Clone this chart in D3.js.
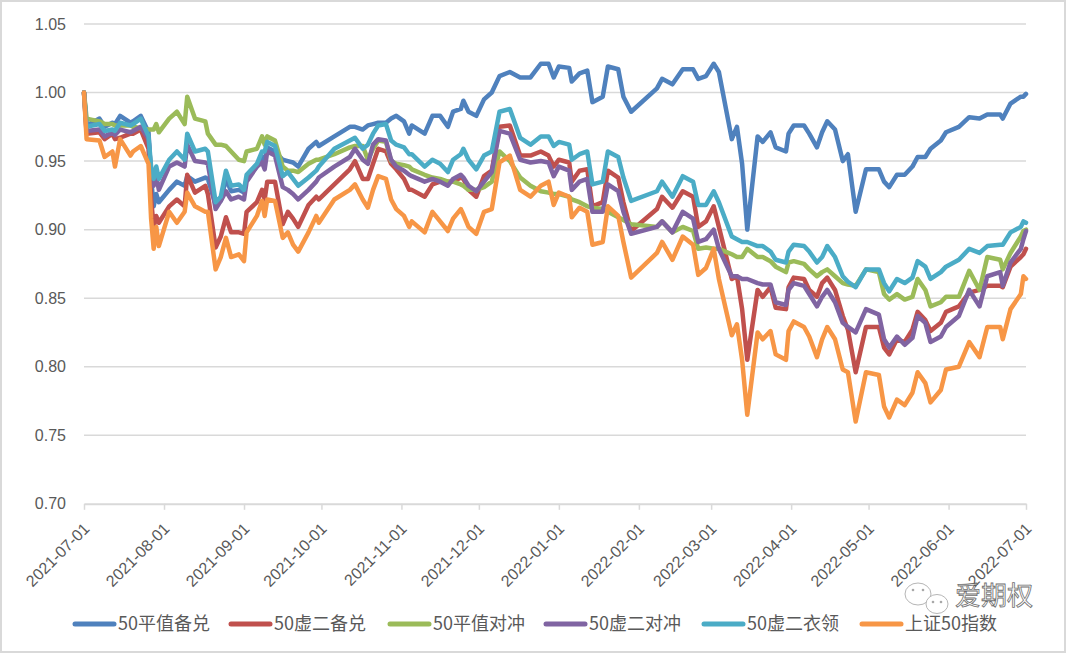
<!DOCTYPE html>
<html>
<head>
<meta charset="utf-8">
<script src="https://cdn.jsdelivr.net/npm/d3@7"></script>
<style>
  body { margin: 0; background: #fff; }
  svg { display: block; }
</style>
</head>
<body>
<svg id="chart" width="1067" height="655"></svg>
<script>
// trading dates
var dates = [
  "2021-07-01","2021-07-02","2021-07-07","2021-07-09","2021-07-12","2021-07-13","2021-07-15","2021-07-19","2021-07-20","2021-07-23",
  "2021-07-26","2021-07-27","2021-07-28","2021-07-29","2021-07-30","2021-08-03","2021-08-06","2021-08-09","2021-08-10","2021-08-13",
  "2021-08-17","2021-08-18","2021-08-21","2021-08-23","2021-08-25","2021-08-27","2021-08-30","2021-09-01","2021-09-02","2021-09-06",
  "2021-09-08","2021-09-09","2021-09-10","2021-09-13","2021-09-16","2021-09-18","2021-09-20","2021-09-22","2021-09-26","2021-09-29",
  "2021-09-30","2021-10-06","2021-10-12","2021-10-14","2021-10-17","2021-10-19","2021-10-21","2021-10-23","2021-10-26","2021-10-28",
  "2021-10-30","2021-11-02","2021-11-04","2021-11-05","2021-11-10","2021-11-13","2021-11-16","2021-11-19","2021-11-21","2021-11-24",
  "2021-11-25","2021-11-27","2021-11-30","2021-12-03","2021-12-06","2021-12-09","2021-12-13","2021-12-17","2021-12-21","2021-12-25",
  "2021-12-28","2021-12-30","2022-01-01","2022-01-05","2022-01-06","2022-01-09","2022-01-12","2022-01-14","2022-01-18","2022-01-20",
  "2022-01-24","2022-01-26","2022-01-29","2022-02-08","2022-02-10","2022-02-14","2022-02-18","2022-02-22","2022-02-24","2022-02-27",
  "2022-03-02","2022-03-04","2022-03-09","2022-03-11","2022-03-13","2022-03-15","2022-03-19","2022-03-21","2022-03-24","2022-03-26",
  "2022-03-30","2022-03-31","2022-04-02","2022-04-06","2022-04-08","2022-04-11","2022-04-13","2022-04-15","2022-04-18","2022-04-21",
  "2022-04-23","2022-04-26","2022-04-30","2022-05-05","2022-05-07","2022-05-09","2022-05-12","2022-05-15","2022-05-18","2022-05-20",
  "2022-05-23","2022-05-25","2022-05-29","2022-05-31","2022-06-05","2022-06-09","2022-06-13","2022-06-16","2022-06-21","2022-06-22",
  "2022-06-25","2022-06-29","2022-06-30","2022-07-01"
];

var pingzhiBeidui = [ // 50平值备兑
  1.000,0.976,0.981,0.975,0.978,0.977,0.983,0.978,0.979,0.983,
  0.971,0.937,0.917,0.926,0.920,0.929,0.935,0.932,0.939,0.935,
  0.938,0.937,0.918,0.921,0.937,0.928,0.929,0.927,0.937,0.946,
  0.953,0.951,0.960,0.957,0.951,0.950,0.949,0.946,0.959,0.964,
  0.961,0.968,0.975,0.975,0.973,0.976,0.977,0.978,0.978,0.981,
  0.983,0.979,0.970,0.976,0.970,0.983,0.983,0.975,0.986,0.988,
  0.994,0.986,0.983,0.995,1.000,1.012,1.015,1.011,1.011,1.021,
  1.021,1.011,1.019,1.018,1.008,1.014,1.016,0.993,0.997,1.019,
  1.017,0.997,0.986,1.003,1.010,1.006,1.017,1.017,1.010,1.012,
  1.021,1.015,0.966,0.975,0.948,0.900,0.968,0.964,0.971,0.960,
  0.957,0.970,0.976,0.976,0.970,0.960,0.971,0.979,0.973,0.950,
  0.955,0.913,0.944,0.944,0.935,0.931,0.940,0.940,0.946,0.953,
  0.953,0.959,0.965,0.971,0.975,0.982,0.981,0.984,0.984,0.981,
  0.992,0.997,0.997,0.999
];

var xuerBeidui = [ // 50虚二备兑
  1.000,0.970,0.971,0.966,0.970,0.966,0.967,0.970,0.970,0.973,
  0.959,0.922,0.902,0.910,0.905,0.917,0.922,0.917,0.940,0.927,
  0.932,0.926,0.887,0.895,0.909,0.898,0.898,0.897,0.913,0.920,
  0.929,0.922,0.935,0.935,0.904,0.913,0.908,0.902,0.918,0.924,
  0.922,0.933,0.944,0.950,0.937,0.937,0.948,0.959,0.957,0.948,
  0.944,0.937,0.929,0.929,0.924,0.933,0.935,0.935,0.935,0.938,
  0.937,0.929,0.924,0.939,0.943,0.975,0.976,0.954,0.954,0.957,
  0.954,0.946,0.951,0.949,0.935,0.943,0.944,0.917,0.920,0.943,
  0.938,0.920,0.899,0.915,0.924,0.916,0.928,0.924,0.902,0.906,
  0.917,0.902,0.864,0.866,0.842,0.805,0.856,0.851,0.858,0.843,
  0.842,0.858,0.865,0.864,0.856,0.851,0.861,0.865,0.856,0.837,
  0.827,0.796,0.829,0.829,0.814,0.809,0.820,0.818,0.827,0.840,
  0.834,0.826,0.832,0.840,0.844,0.854,0.856,0.859,0.859,0.858,
  0.873,0.880,0.882,0.886
];

var pingzhiDuichong = [ // 50平值对冲
  1.000,0.981,0.979,0.977,0.977,0.976,0.976,0.976,0.975,0.974,
  0.973,0.973,0.973,0.977,0.971,0.981,0.986,0.977,0.997,0.981,
  0.979,0.970,0.962,0.962,0.961,0.957,0.951,0.950,0.957,0.959,
  0.968,0.962,0.968,0.965,0.946,0.943,0.943,0.942,0.948,0.951,
  0.951,0.955,0.960,0.961,0.961,0.951,0.959,0.965,0.964,0.950,
  0.948,0.947,0.946,0.944,0.940,0.938,0.937,0.935,0.935,0.933,
  0.932,0.929,0.929,0.931,0.935,0.957,0.950,0.938,0.932,0.928,
  0.927,0.926,0.926,0.924,0.922,0.920,0.917,0.916,0.915,0.913,
  0.909,0.907,0.904,0.902,0.906,0.898,0.902,0.899,0.886,0.887,
  0.886,0.886,0.882,0.880,0.880,0.886,0.880,0.880,0.877,0.873,
  0.869,0.876,0.877,0.875,0.871,0.866,0.869,0.871,0.866,0.861,
  0.860,0.859,0.871,0.869,0.853,0.849,0.853,0.849,0.851,0.864,
  0.856,0.844,0.847,0.851,0.851,0.870,0.856,0.880,0.878,0.871,
  0.883,0.895,0.899,0.900
];

var xuerDuichong = [ // 50虚二对冲
  1.000,0.972,0.973,0.968,0.971,0.969,0.973,0.971,0.972,0.975,
  0.966,0.942,0.932,0.939,0.929,0.946,0.949,0.946,0.962,0.950,
  0.949,0.948,0.915,0.921,0.928,0.922,0.924,0.922,0.935,0.946,
  0.949,0.944,0.957,0.954,0.931,0.929,0.926,0.922,0.929,0.935,
  0.938,0.946,0.953,0.959,0.951,0.948,0.962,0.966,0.965,0.951,
  0.946,0.943,0.940,0.939,0.935,0.937,0.935,0.932,0.937,0.940,
  0.938,0.932,0.928,0.935,0.942,0.972,0.970,0.951,0.949,0.950,
  0.949,0.939,0.946,0.943,0.929,0.935,0.937,0.913,0.913,0.933,
  0.928,0.913,0.897,0.902,0.906,0.898,0.913,0.908,0.891,0.893,
  0.900,0.886,0.866,0.866,0.864,0.864,0.861,0.860,0.860,0.847,
  0.845,0.856,0.861,0.859,0.853,0.844,0.851,0.856,0.847,0.832,
  0.829,0.825,0.842,0.838,0.820,0.814,0.822,0.816,0.821,0.837,
  0.832,0.818,0.822,0.829,0.837,0.856,0.844,0.866,0.869,0.859,
  0.876,0.886,0.893,0.899
];

var xuerYiling = [ // 50虚二衣领
  1.000,0.975,0.977,0.972,0.973,0.972,0.978,0.976,0.977,0.981,
  0.968,0.946,0.937,0.946,0.937,0.951,0.957,0.951,0.970,0.957,
  0.959,0.957,0.920,0.924,0.943,0.932,0.933,0.929,0.940,0.948,
  0.957,0.957,0.964,0.961,0.939,0.942,0.937,0.932,0.938,0.943,
  0.946,0.959,0.965,0.967,0.959,0.962,0.970,0.976,0.977,0.965,
  0.962,0.960,0.955,0.955,0.946,0.951,0.948,0.942,0.951,0.955,
  0.959,0.951,0.944,0.954,0.957,0.986,0.988,0.967,0.962,0.968,
  0.968,0.961,0.964,0.962,0.951,0.955,0.957,0.933,0.935,0.957,
  0.953,0.938,0.921,0.928,0.935,0.924,0.939,0.935,0.918,0.918,
  0.928,0.920,0.895,0.893,0.891,0.891,0.888,0.888,0.884,0.878,
  0.876,0.884,0.889,0.888,0.884,0.876,0.880,0.888,0.880,0.866,
  0.862,0.858,0.871,0.871,0.861,0.855,0.864,0.861,0.865,0.877,
  0.873,0.864,0.869,0.873,0.878,0.886,0.883,0.888,0.889,0.889,
  0.898,0.902,0.906,0.905
];

var sz50Index = [ // 上证50指数
  1.000,0.966,0.965,0.953,0.957,0.946,0.966,0.954,0.957,0.961,
  0.948,0.908,0.886,0.902,0.888,0.913,0.905,0.913,0.927,0.917,
  0.913,0.913,0.871,0.880,0.894,0.880,0.882,0.877,0.898,0.910,
  0.921,0.910,0.922,0.921,0.894,0.898,0.889,0.884,0.898,0.910,
  0.905,0.922,0.929,0.933,0.922,0.916,0.929,0.939,0.937,0.922,
  0.915,0.910,0.902,0.906,0.898,0.913,0.906,0.899,0.908,0.915,
  0.911,0.902,0.897,0.913,0.915,0.949,0.954,0.929,0.924,0.932,
  0.935,0.918,0.927,0.924,0.909,0.916,0.913,0.889,0.891,0.917,
  0.910,0.891,0.865,0.883,0.891,0.878,0.895,0.889,0.867,0.872,
  0.886,0.864,0.823,0.831,0.805,0.765,0.825,0.820,0.826,0.809,
  0.805,0.826,0.833,0.829,0.822,0.807,0.820,0.829,0.820,0.798,
  0.796,0.760,0.796,0.794,0.771,0.763,0.776,0.772,0.781,0.796,
  0.788,0.774,0.783,0.798,0.800,0.818,0.807,0.829,0.829,0.820,
  0.842,0.853,0.866,0.864
];

var seriesNames = ["50平值备兑", "50虚二备兑", "50平值对冲", "50虚二对冲", "50虚二衣领", "上证50指数"];
var seriesColors = ["#4f81bd", "#c0504d", "#9bbb59", "#8064a2", "#4bacc6", "#f79646"];
var yTicks = [0.70, 0.75, 0.80, 0.85, 0.90, 0.95, 1.00, 1.05];
var monthTicks = ["2021-07-01","2021-08-01","2021-09-01","2021-10-01","2021-11-01","2021-12-01",
                  "2022-01-01","2022-02-01","2022-03-01","2022-04-01","2022-05-01","2022-06-01","2022-07-01"];

var parse = d3.timeParse("%Y-%m-%d");
var allValues = [pingzhiBeidui, xuerBeidui, pingzhiDuichong, xuerDuichong, xuerYiling, sz50Index];
var series = seriesNames.map(function (name, i) {
  return {
    name: name,
    color: seriesColors[i],
    points: dates.map(function (d, j) { return { date: parse(d), v: allValues[i][j] }; })
  };
});

var svg = d3.select("#chart");
var gridColor = "#d9d9d9";
var textColor = "#595959";

// outer frame
svg.append("rect")
  .attr("x", 1).attr("y", 1)
  .attr("width", 1064).attr("height", 651)
  .attr("fill", "#fff")
  .attr("stroke", gridColor)
  .attr("stroke-width", 2);

var x = d3.scaleTime()
  .domain([parse("2021-07-01"), parse("2022-07-01")])
  .range([84, 1026]);
var y = d3.scaleLinear()
  .domain([0.70, 1.05])
  .range([503.8, 24]);

// gridlines
svg.append("g")
  .selectAll("line")
  .data(yTicks.slice(1))
  .join("line")
  .attr("x1", x.range()[0]).attr("x2", x.range()[1])
  .attr("y1", function (d) { return y(d); })
  .attr("y2", function (d) { return y(d); })
  .attr("stroke", gridColor)
  .attr("stroke-width", 1.5);

// y axis labels
var yAxis = svg.append("g")
  .attr("transform", "translate(" + x.range()[0] + ",0)")
  .call(d3.axisLeft(y).tickValues(yTicks).tickFormat(d3.format(".2f")).tickSize(0).tickPadding(18));
yAxis.select(".domain").remove();
yAxis.selectAll("text")
  .attr("fill", textColor)
  .style("font-family", "'Liberation Sans', Arial, sans-serif")
  .style("font-size", "16px");

// x axis
var xAxis = svg.append("g")
  .attr("transform", "translate(0," + y(0.70) + ")")
  .call(d3.axisBottom(x)
    .tickValues(monthTicks.map(parse))
    .tickFormat(d3.timeFormat("%Y-%m-%d"))
    .tickSize(6)
    .tickSizeOuter(0));
xAxis.select(".domain").attr("stroke", gridColor).attr("stroke-width", 2);
xAxis.selectAll(".tick line").attr("stroke", gridColor).attr("stroke-width", 1.5);
xAxis.selectAll("text")
  .attr("fill", textColor)
  .attr("x", 0).attr("y", 0).attr("dy", "0.35em")
  .attr("transform", "translate(2,22) rotate(-45)")
  .style("text-anchor", "end")
  .style("font-family", "'Liberation Sans', Arial, sans-serif")
  .style("font-size", "16px");

// series lines
var line = d3.line()
  .x(function (d) { return x(d.date); })
  .y(function (d) { return y(d.v); });

svg.append("g")
  .selectAll("path")
  .data(series)
  .join("path")
  .attr("d", function (d) { return line(d.points); })
  .attr("fill", "none")
  .attr("stroke", function (d) { return d.color; })
  .attr("stroke-width", 4.5)
  .attr("stroke-linejoin", "round")
  .attr("stroke-linecap", "round");

// legend
var legendX = [73, 229, 388, 544, 702, 860];
var legend = svg.append("g")
  .selectAll("g")
  .data(series)
  .join("g")
  .attr("transform", function (d, i) { return "translate(" + legendX[i] + ",624)"; });
legend.append("line")
  .attr("x1", 2).attr("x2", 41)
  .attr("stroke", function (d) { return d.color; })
  .attr("stroke-width", 5)
  .attr("stroke-linecap", "round");
legend.append("text")
  .attr("x", 45)
  .attr("dy", "0.35em")
  .attr("fill", textColor)
  .style("font-family", "'Noto Sans CJK SC', sans-serif")
  .style("font-size", "18px")
  .text(function (d) { return d.name; });

// watermark, nudged up so it clears the last legend label
var wm = svg.append("g").attr("opacity", 0.85);
wm.append("ellipse").attr("cx", 918).attr("cy", 594).attr("rx", 13).attr("ry", 11)
  .attr("fill", "#fff").attr("stroke", "#aaa").attr("stroke-width", 1);
wm.append("ellipse").attr("cx", 937).attr("cy", 604).attr("rx", 11).attr("ry", 9.5)
  .attr("fill", "#fff").attr("stroke", "#aaa").attr("stroke-width", 1);
[[913, 590], [923, 590], [933, 602], [941, 602]].forEach(function (p) {
  wm.append("circle").attr("cx", p[0]).attr("cy", p[1]).attr("r", 1.3).attr("fill", "#999");
});
wm.append("text")
  .attr("x", 955).attr("y", 605)
  .attr("fill", "#fff")
  .attr("stroke", "#555")
  .attr("stroke-width", 0.8)
  .style("font-family", "'Noto Sans CJK SC', sans-serif")
  .style("font-size", "26px")
  .text("爱期权");
</script>
</body>
</html>
